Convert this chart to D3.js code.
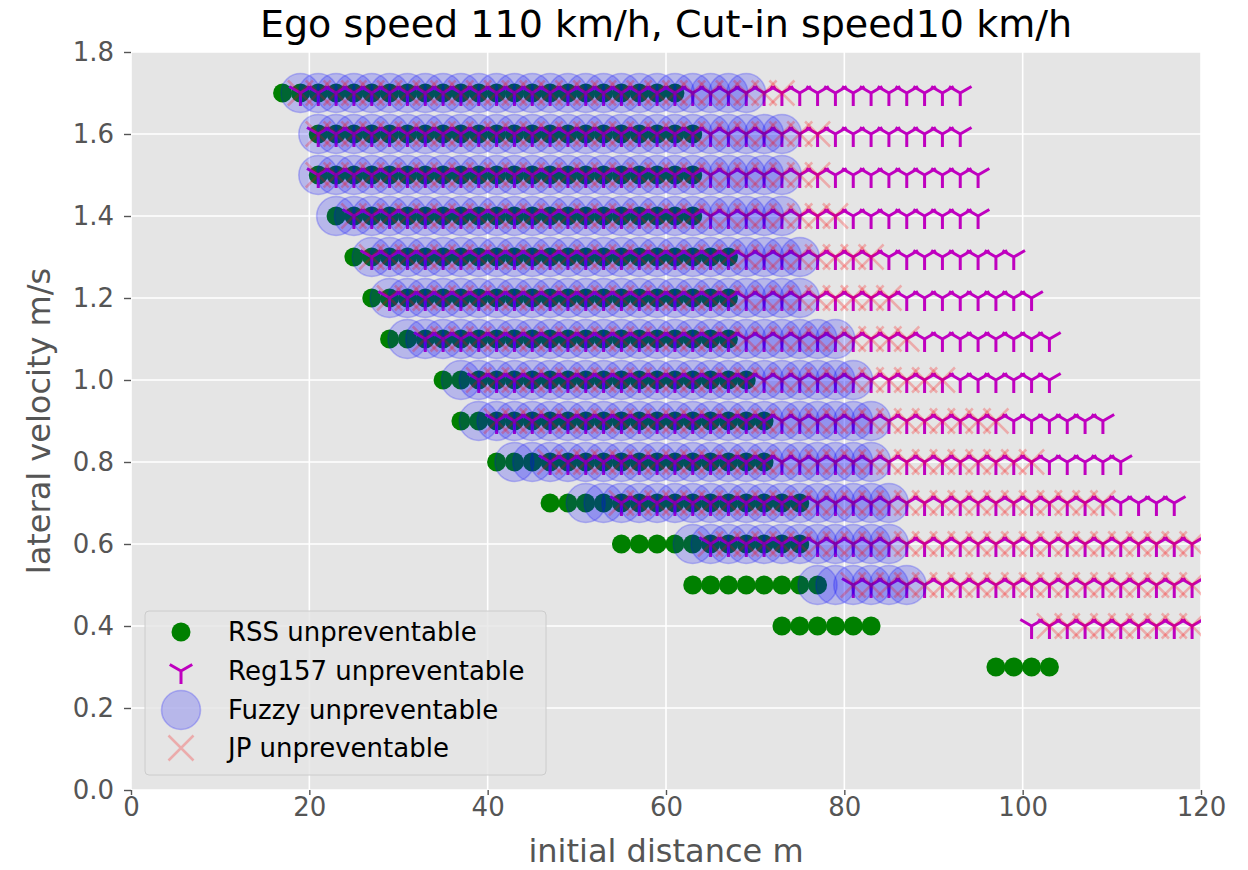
<!DOCTYPE html>
<html>
<head>
<meta charset="utf-8">
<script src="https://cdn.jsdelivr.net/npm/d3@7"></script>
<style>
  body { margin: 0; background: #fff; }
  svg { display: block; font-family: "DejaVu Sans", sans-serif; }
</style>
</head>
<body>
<svg width="1248" height="870"></svg>
<script>
// sampled initial distances (m), the simulation grid
var distances = [1, 3, 5, 7, 9, 11, 13, 15, 17, 19, 21, 23, 25, 27, 29, 31, 33, 35, 37, 39,
  41, 43, 45, 47, 49, 51, 53, 55, 57, 59, 61, 63, 65, 67, 69, 71, 73, 75, 77, 79,
  81, 83, 85, 87, 89, 91, 93, 95, 97, 99, 101, 103, 105, 107, 109, 111, 113, 115, 117, 119];

// one row per lateral velocity (m/s)
var lateralVelocity = [1.7, 1.6, 1.5, 1.4, 1.3, 1.2, 1.1, 1.0, 0.9, 0.8, 0.7, 0.6, 0.5, 0.4, 0.3];

// unpreventable interval [first, last] distance for each row, null = none
var rssRange = [[17, 61], [21, 63], [21, 63], [23, 63], [25, 67], [27, 67], [29, 67], [35, 69],
  [37, 71], [41, 71], [47, 75], [55, 75], [63, 77], [73, 83], [97, 103]];
var reg157Range = [[19, 93], [21, 93], [21, 95], [25, 95], [27, 99], [29, 101], [33, 103], [39, 103],
  [41, 109], [47, 111], [55, 117], [65, 119], [81, 119], [101, 119], null];
var fuzzyRange = [[19, 69], [21, 73], [21, 73], [23, 73], [27, 75], [29, 75], [31, 79], [37, 81],
  [39, 83], [43, 83], [51, 85], [63, 85], [77, 87], null, null];
var jpRange = [[19, 73], [21, 77], [21, 77], [25, 79], [27, 83], [29, 85], [33, 87], [39, 91],
  [41, 97], [47, 101], [55, 109], [65, 119], [81, 119], [103, 119], null];

var xTicks = [0, 20, 40, 60, 80, 100, 120];
var yTicks = [0.0, 0.2, 0.4, 0.6, 0.8, 1.0, 1.2, 1.4, 1.6, 1.8];

var legendLabels = ["RSS unpreventable", "Reg157 unpreventable", "Fuzzy unpreventable", "JP unpreventable"];

var svg = d3.select("svg"),
    pl = 131, pr = 1201, pt = 52, pb = 790;

var x = d3.scaleLinear().domain([0, 120]).range([pl, pr]),
    y = d3.scaleLinear().domain([0, 1.8]).range([pb, pt]);

// turn the intervals into points on the distance grid
function points(ranges) {
  var out = [];
  ranges.forEach(function(r, i) {
    if (!r) return;
    distances.forEach(function(d) {
      if (d >= r[0] && d <= r[1]) out.push({d: d, v: lateralVelocity[i]});
    });
  });
  return out;
}

svg.append("defs").append("clipPath").attr("id", "plotclip")
  .append("rect").attr("x", pl).attr("y", pt)
  .attr("width", pr - pl).attr("height", pb - pt);

svg.append("rect")
  .attr("x", pl).attr("y", pt)
  .attr("width", pr - pl).attr("height", pb - pt)
  .attr("fill", "#e5e5e5");

// grid
svg.append("g").selectAll("line").data(xTicks).enter().append("line")
  .attr("x1", function(d) { return x(d); }).attr("x2", function(d) { return x(d); })
  .attr("y1", pt).attr("y2", pb)
  .attr("stroke", "#fff").attr("stroke-width", 1.6);
svg.append("g").selectAll("line").data(yTicks).enter().append("line")
  .attr("y1", function(d) { return y(d); }).attr("y2", function(d) { return y(d); })
  .attr("x1", pl).attr("x2", pr)
  .attr("stroke", "#fff").attr("stroke-width", 1.6);

// axes
var gx = svg.append("g")
  .attr("transform", "translate(0," + pb + ")")
  .call(d3.axisBottom(x).tickValues(xTicks).tickSize(5).tickPadding(3).tickFormat(d3.format("d")));
var gy = svg.append("g")
  .attr("transform", "translate(" + pl + ",0)")
  .call(d3.axisLeft(y).tickValues(yTicks).tickSize(7).tickPadding(10).tickFormat(d3.format(".1f")));
[gx, gy].forEach(function(g) {
  g.select(".domain").remove();
  g.selectAll("line").attr("stroke", "#555").attr("stroke-width", 1.4);
  g.selectAll("text").attr("fill", "#555").style("font-size", "26px").style("font-family", "DejaVu Sans");
});

// marker shapes
var triDown = function(r) {
  return "M0,0L0," + r + "M0,0L" + (-0.866 * r) + "," + (-0.5 * r) + "M0,0L" + (0.866 * r) + "," + (-0.5 * r);
};
var cross = function(h) {
  return "M" + -h + "," + -h + "L" + h + "," + h + "M" + -h + "," + h + "L" + h + "," + -h;
};

var plot = svg.append("g").attr("clip-path", "url(#plotclip)");

plot.append("g").selectAll("circle").data(points(rssRange)).enter().append("circle")
  .attr("cx", function(p) { return x(p.d); })
  .attr("cy", function(p) { return y(p.v); })
  .attr("r", 9.5)
  .attr("fill", "#008000");

plot.append("g").selectAll("path").data(points(reg157Range)).enter().append("path")
  .attr("transform", function(p) { return "translate(" + x(p.d) + "," + y(p.v) + ")"; })
  .attr("d", triDown(13))
  .attr("fill", "none").attr("stroke", "#bf00bf").attr("stroke-width", 3);

plot.append("g").selectAll("circle").data(points(fuzzyRange)).enter().append("circle")
  .attr("cx", function(p) { return x(p.d); })
  .attr("cy", function(p) { return y(p.v); })
  .attr("r", 19.5)
  .attr("fill", "#0000ff").attr("fill-opacity", 0.2)
  .attr("stroke", "#0000ff").attr("stroke-opacity", 0.22).attr("stroke-width", 1.6);

plot.append("g").selectAll("path").data(points(jpRange)).enter().append("path")
  .attr("transform", function(p) { return "translate(" + x(p.d) + "," + y(p.v) + ")"; })
  .attr("d", cross(12.5))
  .attr("fill", "none").attr("stroke", "#ff0000").attr("stroke-opacity", 0.25).attr("stroke-width", 2.5);

// title and labels
svg.append("text")
  .attr("x", (pl + pr) / 2).attr("y", 37)
  .attr("text-anchor", "middle")
  .style("font-size", "38px").attr("fill", "#000")
  .text("Ego speed 110 km/h, Cut-in speed10 km/h");
svg.append("text")
  .attr("x", (pl + pr) / 2).attr("y", 862)
  .attr("text-anchor", "middle")
  .style("font-size", "32px").attr("fill", "#555")
  .text("initial distance m");
svg.append("text")
  .attr("transform", "translate(50," + (pt + pb) / 2 + ") rotate(-90)")
  .attr("text-anchor", "middle")
  .style("font-size", "32px").attr("fill", "#555")
  .text("lateral velocity m/s");

// legend
var lg = svg.append("g").attr("transform", "translate(145,611)");
lg.append("rect")
  .attr("width", 401).attr("height", 164).attr("rx", 4)
  .attr("fill", "#e5e5e5").attr("fill-opacity", 0.8)
  .attr("stroke", "#cccccc").attr("stroke-width", 1);
var rowY = [21, 60, 99, 137];
lg.append("circle").attr("cx", 36).attr("cy", rowY[0]).attr("r", 9.5).attr("fill", "#008000");
lg.append("path").attr("transform", "translate(36," + rowY[1] + ")").attr("d", triDown(13))
  .attr("fill", "none").attr("stroke", "#bf00bf").attr("stroke-width", 3);
lg.append("circle").attr("cx", 36).attr("cy", rowY[2]).attr("r", 19.5)
  .attr("fill", "#0000ff").attr("fill-opacity", 0.2)
  .attr("stroke", "#0000ff").attr("stroke-opacity", 0.22).attr("stroke-width", 1.6);
lg.append("path").attr("transform", "translate(36," + rowY[3] + ")").attr("d", cross(12.5))
  .attr("fill", "none").attr("stroke", "#ff0000").attr("stroke-opacity", 0.25).attr("stroke-width", 2.5);
lg.selectAll("text.lab").data(legendLabels).enter().append("text")
  .attr("class", "lab")
  .attr("x", 83).attr("y", function(d, i) { return rowY[i] + 9; })
  .style("font-size", "26px").attr("fill", "#000")
  .text(function(d) { return d; });
</script>
</body>
</html>
